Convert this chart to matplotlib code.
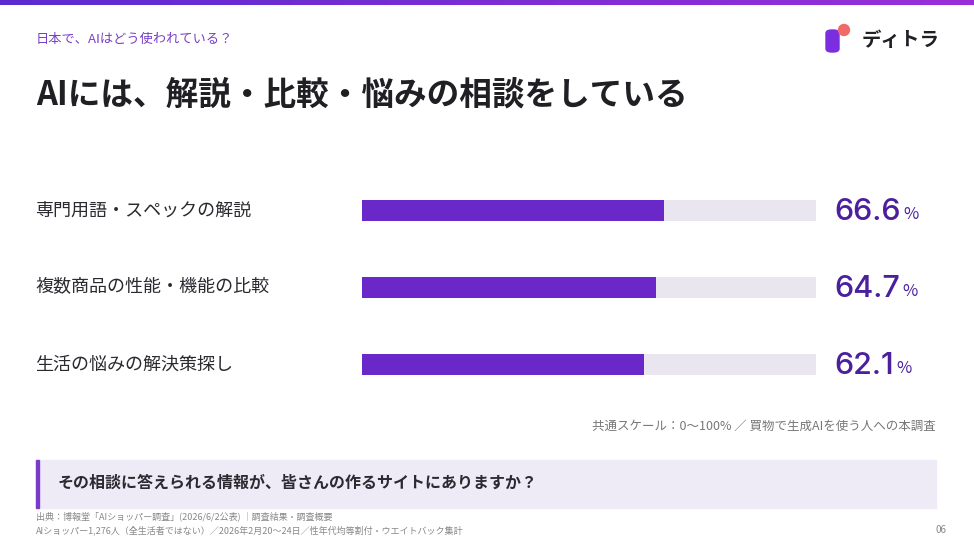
import matplotlib.pyplot as plt
import numpy as np
from matplotlib.patches import Rectangle, Ellipse, FancyBboxPatch

plt.rcParams["font.family"] = ["Noto Sans CJK JP", "DejaVu Sans"]

categories = ["専門用語・スペックの解説", "複数商品の性能・機能の比較", "生活の悩みの解決策探し"]
values = [66.6, 64.7, 62.1]

W, H = 974, 548
PURPLE = "#6a28c8"
TRACK = "#e9e6ef"

fig = plt.figure(figsize=(W / 100, H / 100), dpi=100)
fig.patch.set_facecolor("white")


def px(x, y):
    return x / W, 1 - y / H


# top gradient strip
grad = fig.add_axes([0, 1 - 5 / H, 1, 5 / H])
grad.imshow(np.linspace(0, 1, 256)[None, :], aspect="auto",
            cmap=plt.matplotlib.colors.LinearSegmentedColormap.from_list("g", ["#5b2bd0", "#9a2fd8"]))
grad.axis("off")

fig.text(*px(36, 40), "日本で、AIはどう使われている？", color="#7a40c8", fontsize=9.5, va="center")
fig.text(*px(36, 95), "AIには、解説・比較・悩みの相談をしている", color="#1f1f24",
         fontsize=23.5, fontweight="bold", va="center")

# logo
fig.patches.append(FancyBboxPatch(px(826, 52), 13 / W, 22 / H, boxstyle="round,pad=0,rounding_size=0.006",
                                  transform=fig.transFigure, color="#7a2ee0"))
fig.patches.append(Ellipse(px(844, 30), 11 / W, 11 / H, transform=fig.transFigure, color="#f06a6a"))
fig.text(*px(862, 40), "ディトラ", fontsize=14, fontweight="bold", color="#1f1f24", va="center")

ax = fig.add_axes([362 / W, 1 - 395 / H, 454 / W, 215 / H])
y = np.arange(len(categories))
ax.barh(y, [100] * len(values), height=0.27, color=TRACK)
ax.barh(y, values, height=0.27, color=PURPLE)
ax.set_xlim(0, 100)
ax.set_ylim(2.395, -0.395)
ax.axis("off")

for i, (cat, v) in enumerate(zip(categories, values)):
    ax.text(-0.72, i, cat, transform=ax.get_yaxis_transform(), ha="left", va="center",
            fontsize=13, color="#2a2a30")
    t = ax.text(1.04, i + 0.02, f"{v:.1f}", transform=ax.get_yaxis_transform(), ha="left", va="center",
                fontsize=22, color="#4b1f9e", family=["Inter", "DejaVu Sans"], fontweight="medium")
    ax.annotate("%", xycoords=t, xy=(1, 0.12), xytext=(2, 0), textcoords="offset points",
                fontsize=12, color="#4b1f9e", va="bottom")

fig.text(*px(936, 426), "共通スケール：0〜100% ／ 買物で生成AIを使う人への本調査", ha="right", va="center",
         fontsize=9, color="#777777")

fig.patches.append(Rectangle(px(36, 508), 900 / W, 48 / H, transform=fig.transFigure, color="#efebf6"))
fig.patches.append(Rectangle(px(36, 508), 3 / W, 48 / H, transform=fig.transFigure, color="#7a3cc8"))
fig.text(*px(58, 483), "その相談に答えられる情報が、皆さんの作るサイトにありますか？", va="center",
         fontsize=11.5, fontweight="bold", color="#2a2a30")

fig.text(*px(36, 516), "出典：博報堂「AIショッパー調査」(2026/6/2公表) ｜調査結果・調査概要", va="center",
         fontsize=6.5, color="#888888")
fig.text(*px(36, 530), "AIショッパー1,276人（全生活者ではない）／2026年2月20〜24日／性年代均等割付・ウエイトバック集計",
         va="center", fontsize=6.5, color="#888888")
fig.text(*px(946, 530), "06", ha="right", va="center", fontsize=7, color="#888888")

fig.savefig("out.png", dpi=100)
